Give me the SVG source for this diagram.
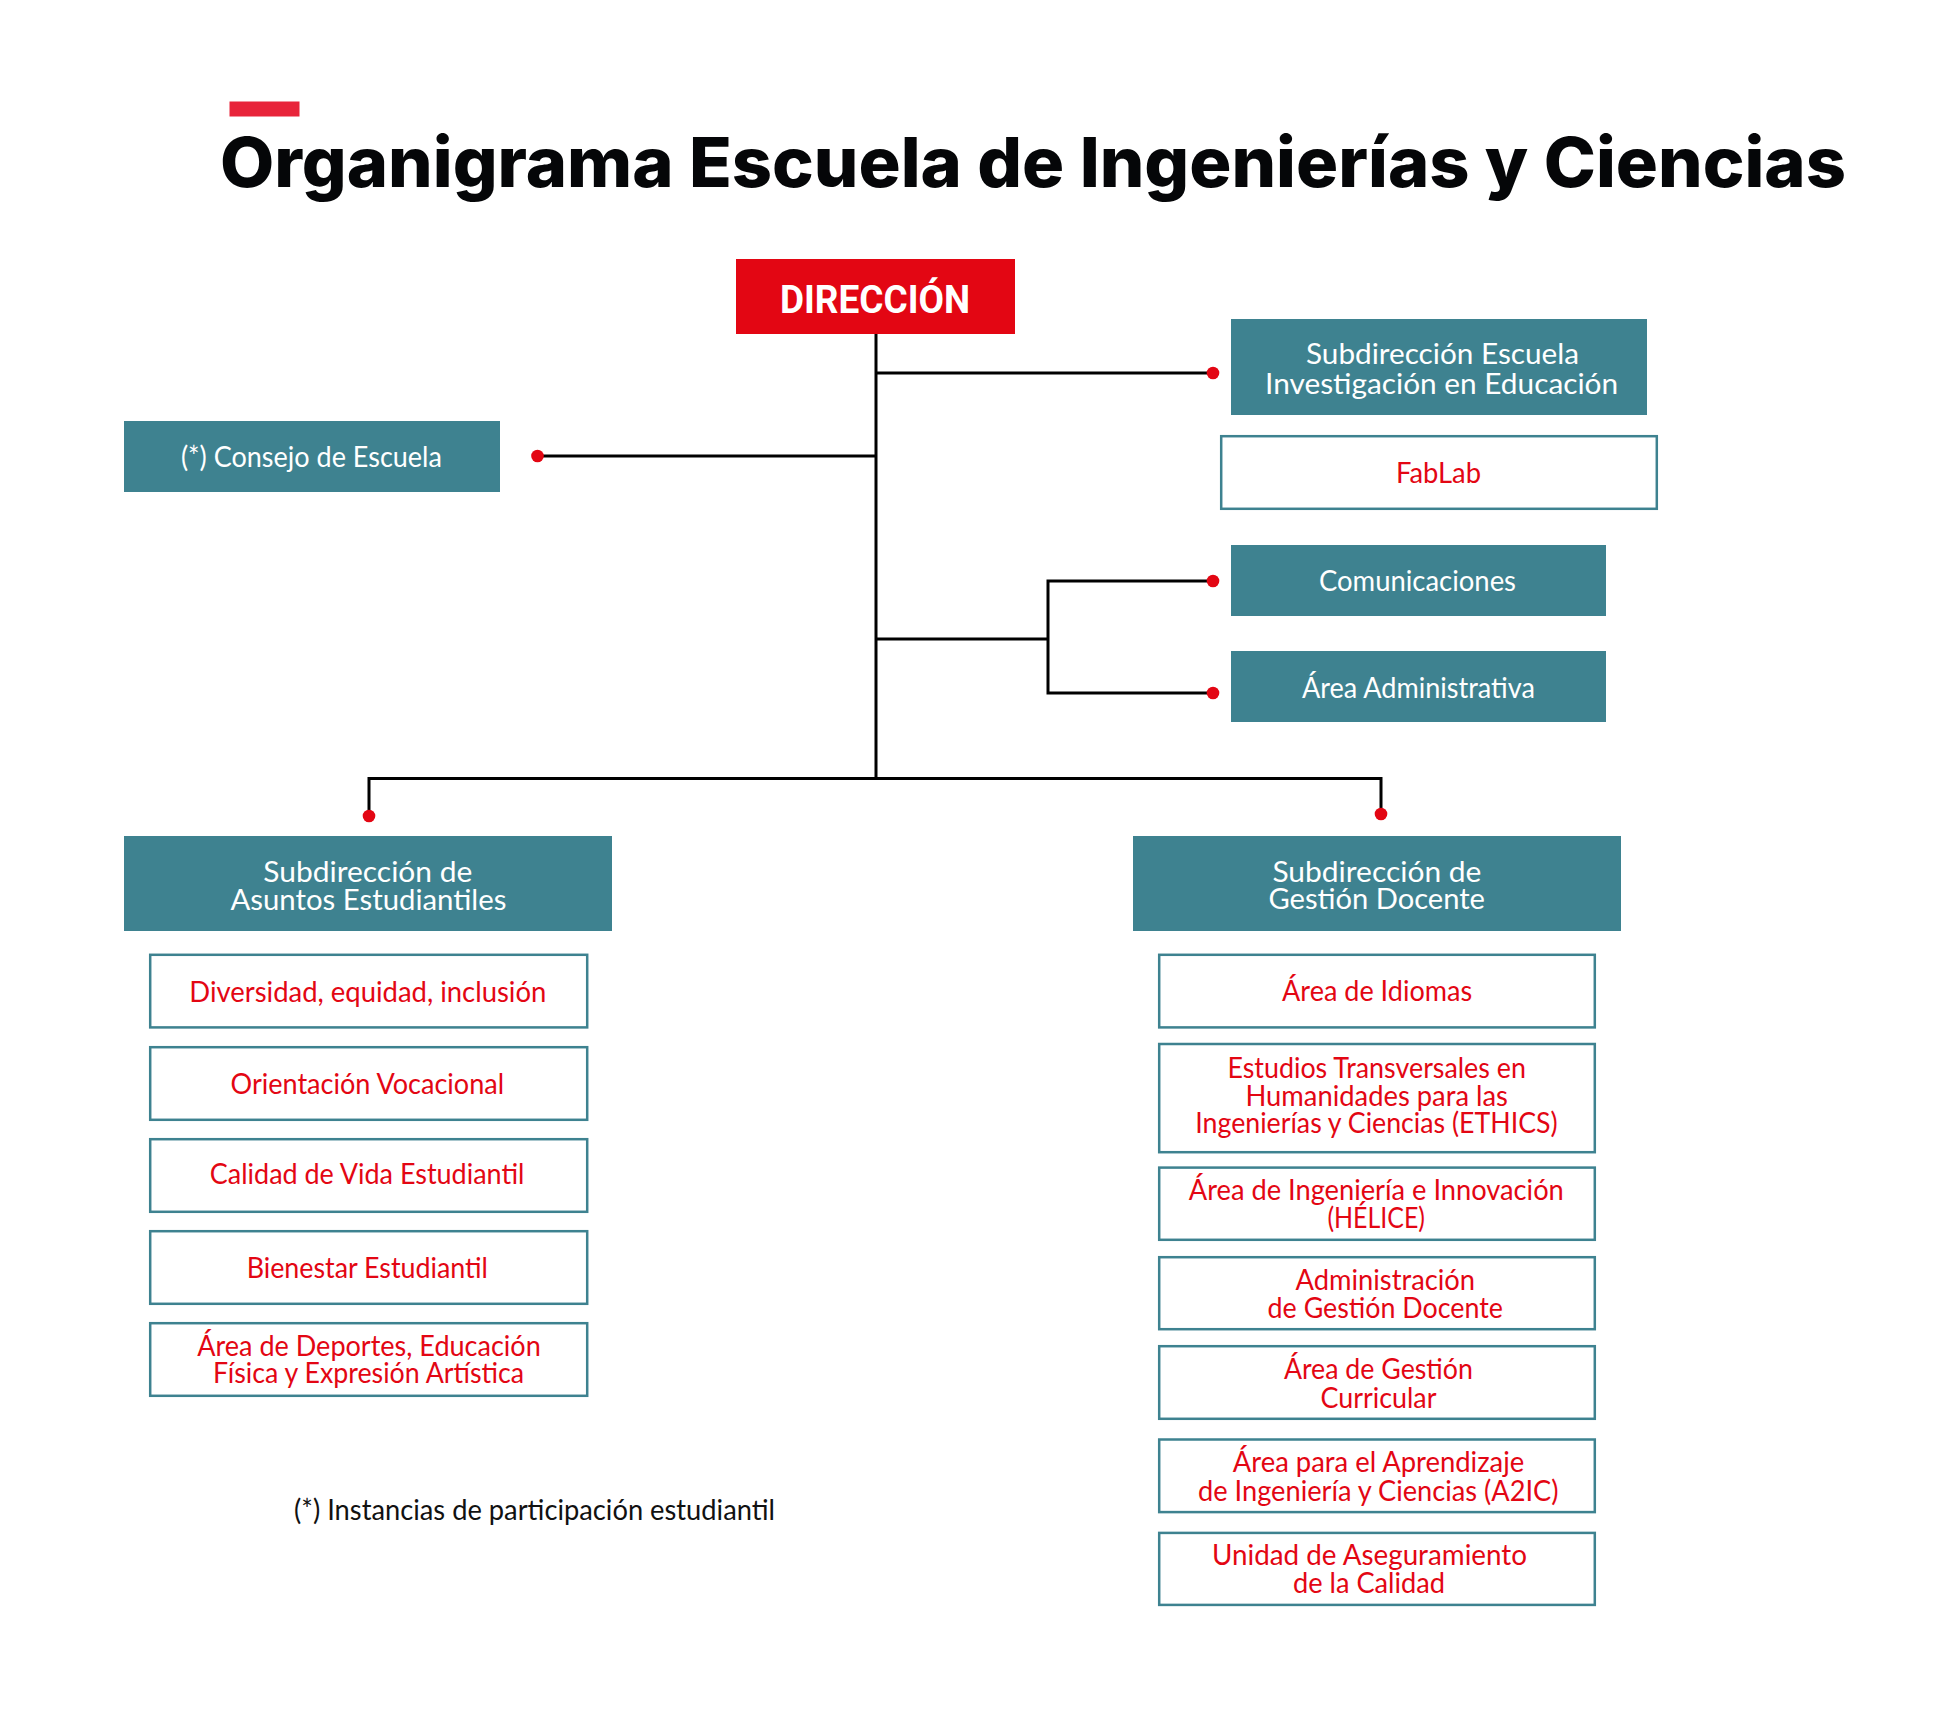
<svg xmlns="http://www.w3.org/2000/svg" width="1952" height="1712" viewBox="0 0 1952 1712">
<style>
.t{font-family:Lato,"Noto Sans",sans-serif;font-size:28.5px;text-anchor:middle}
.w{fill:#ffffff}
.r{fill:#e30613}
.teal{fill:#3e8290}
.wb{fill:#ffffff;stroke:#3e8290;stroke-width:2.5}
.ln{fill:none;stroke:#000000;stroke-width:3}
.dot{fill:#e30613}
</style>
<rect width="1952" height="1712" fill="#ffffff"/>
<g id="title">
<rect x="229.5" y="101.5" width="70" height="15" fill="#e8243a"/>
<text x="220" y="186.5" font-family="Inter,'Noto Sans',sans-serif" font-weight="800" font-size="69" textLength="1626" lengthAdjust="spacingAndGlyphs" fill="#050608">Organigrama Escuela de Ingenierías y Ciencias</text>
</g>
<g id="connectors">
<path class="ln" d="M876 334V779"/>
<path class="ln" d="M876 373H1213"/>
<path class="ln" d="M537 456H876"/>
<path class="ln" d="M876 639H1048"/>
<path class="ln" d="M1213 581H1048V693H1213"/>
<path class="ln" d="M369 816V778.5H1381V814"/>
<circle class="dot" cx="1213" cy="373" r="6.3"/>
<circle class="dot" cx="537.5" cy="456" r="6.3"/>
<circle class="dot" cx="1213" cy="581" r="6.3"/>
<circle class="dot" cx="1213" cy="693" r="6.3"/>
<circle class="dot" cx="369" cy="816" r="6.3"/>
<circle class="dot" cx="1381" cy="814" r="6.3"/>
</g>
<g id="direccion">
<rect x="736" y="259" width="279" height="75" fill="#e30613"/>
<text x="875" y="312.7" font-family="Roboto,'Noto Sans',sans-serif" font-weight="700" font-size="38" text-anchor="middle" textLength="190" lengthAdjust="spacingAndGlyphs" fill="#ffffff">DIRECCIÓN</text>
</g>
<g id="subdir-escuela">
<rect class="teal" x="1231" y="319" width="416" height="96"/>
<text class="t w" x="1442.5" y="364" textLength="273" lengthAdjust="spacingAndGlyphs">Subdirección Escuela</text>
<text class="t w" x="1441.6" y="394" textLength="353" lengthAdjust="spacingAndGlyphs">Investigación en Educación</text>
</g>
<g id="fablab">
<rect class="wb" x="1221.2" y="436.2" width="435.6" height="72.6"/>
<text class="t r" x="1438.5" y="482.7" textLength="85" lengthAdjust="spacingAndGlyphs">FabLab</text>
</g>
<g id="consejo">
<rect class="teal" x="124" y="421" width="376" height="71"/>
<text class="t w" x="311.4" y="466.7" textLength="261" lengthAdjust="spacingAndGlyphs">(*) Consejo de Escuela</text>
</g>
<g id="comunicaciones">
<rect class="teal" x="1231" y="545" width="375" height="71"/>
<text class="t w" x="1417.5" y="591" textLength="197" lengthAdjust="spacingAndGlyphs">Comunicaciones</text>
</g>
<g id="area-administrativa">
<rect class="teal" x="1231" y="651" width="375" height="71"/>
<text class="t w" x="1418.4" y="697.7" textLength="233" lengthAdjust="spacingAndGlyphs">Área Administrativa</text>
</g>
<g id="subdir-asuntos">
<rect class="teal" x="124" y="836" width="488" height="95"/>
<text class="t w" x="367.8" y="881.7" textLength="209" lengthAdjust="spacingAndGlyphs">Subdirección de</text>
<text class="t w" x="368.4" y="909.8" textLength="276" lengthAdjust="spacingAndGlyphs">Asuntos Estudiantiles</text>
</g>
<g id="subdir-gestion">
<rect class="teal" x="1133" y="836" width="488" height="95"/>
<text class="t w" x="1376.9" y="881.7" textLength="209" lengthAdjust="spacingAndGlyphs">Subdirección de</text>
<text class="t w" x="1376.7" y="909.3" textLength="216.6" lengthAdjust="spacingAndGlyphs">Gestión Docente</text>
</g>
<g id="diversidad">
<rect class="wb" x="150.2" y="954.8" width="437" height="72.6"/>
<text class="t r" x="367.8" y="1002" textLength="357" lengthAdjust="spacingAndGlyphs">Diversidad, equidad, inclusión</text>
</g>
<g id="orientacion">
<rect class="wb" x="150.2" y="1047.2" width="437" height="72.6"/>
<text class="t r" x="367.3" y="1094" textLength="273.6" lengthAdjust="spacingAndGlyphs">Orientación Vocacional</text>
</g>
<g id="calidad-vida">
<rect class="wb" x="150.2" y="1139.2" width="437" height="72.6"/>
<text class="t r" x="367.1" y="1184.4" textLength="314.6" lengthAdjust="spacingAndGlyphs">Calidad de Vida Estudiantil</text>
</g>
<g id="bienestar">
<rect class="wb" x="150.2" y="1231.2" width="437" height="72.6"/>
<text class="t r" x="367.3" y="1278.3" textLength="241.3" lengthAdjust="spacingAndGlyphs">Bienestar Estudiantil</text>
</g>
<g id="deportes">
<rect class="wb" x="150.2" y="1323.2" width="437" height="72.6"/>
<text class="t r" x="369" y="1355.7" textLength="343.5" lengthAdjust="spacingAndGlyphs">Área de Deportes, Educación</text>
<text class="t r" x="368.6" y="1383.3" textLength="311" lengthAdjust="spacingAndGlyphs">Física y Expresión Artística</text>
</g>
<g id="idiomas">
<rect class="wb" x="1159.2" y="954.8" width="435.6" height="72.6"/>
<text class="t r" x="1377.1" y="1001" textLength="190" lengthAdjust="spacingAndGlyphs">Área de Idiomas</text>
</g>
<g id="ethics">
<rect class="wb" x="1159.2" y="1044" width="435.6" height="108.2"/>
<text class="t r" x="1376.7" y="1077.6" textLength="298.5" lengthAdjust="spacingAndGlyphs">Estudios Transversales en</text>
<text class="t r" x="1376.7" y="1105.6" textLength="262.5" lengthAdjust="spacingAndGlyphs">Humanidades para las</text>
<text class="t r" x="1376.5" y="1133.1" textLength="362.4" lengthAdjust="spacingAndGlyphs">Ingenierías y Ciencias (ETHICS)</text>
</g>
<g id="helice">
<rect class="wb" x="1159.2" y="1167.6" width="435.6" height="72.2"/>
<text class="t r" x="1376.3" y="1200" textLength="375" lengthAdjust="spacingAndGlyphs">Área de Ingeniería e Innovación</text>
<text class="t r" x="1376.2" y="1227.7" textLength="97.6" lengthAdjust="spacingAndGlyphs">(HÉLICE)</text>
</g>
<g id="administracion-gestion">
<rect class="wb" x="1159.2" y="1257.2" width="435.6" height="72"/>
<text class="t r" x="1385.3" y="1290" textLength="179.5" lengthAdjust="spacingAndGlyphs">Administración</text>
<text class="t r" x="1385.3" y="1318" textLength="235.4" lengthAdjust="spacingAndGlyphs">de Gestión Docente</text>
</g>
<g id="gestion-curricular">
<rect class="wb" x="1159.2" y="1346.2" width="435.6" height="72.6"/>
<text class="t r" x="1378.4" y="1379.3" textLength="189" lengthAdjust="spacingAndGlyphs">Área de Gestión</text>
<text class="t r" x="1378.5" y="1408.3" textLength="116" lengthAdjust="spacingAndGlyphs">Curricular</text>
</g>
<g id="a2ic">
<rect class="wb" x="1159.2" y="1439.5" width="435.6" height="72.6"/>
<text class="t r" x="1378.5" y="1472.3" textLength="291.5" lengthAdjust="spacingAndGlyphs">Área para el Aprendizaje</text>
<text class="t r" x="1378.3" y="1501" textLength="360.5" lengthAdjust="spacingAndGlyphs">de Ingeniería y Ciencias (A2IC)</text>
</g>
<g id="aseguramiento">
<rect class="wb" x="1159.2" y="1532.9" width="435.6" height="72"/>
<text class="t r" x="1369.5" y="1565" textLength="315" lengthAdjust="spacingAndGlyphs">Unidad de Aseguramiento</text>
<text class="t r" x="1369" y="1593.3" textLength="152" lengthAdjust="spacingAndGlyphs">de la Calidad</text>
</g>
<g id="footnote">
<text x="294" y="1520" font-family="Lato,'Noto Sans',sans-serif" font-size="28.5" textLength="481" lengthAdjust="spacingAndGlyphs" fill="#111111">(*) Instancias de participación estudiantil</text>
</g>
</svg>
